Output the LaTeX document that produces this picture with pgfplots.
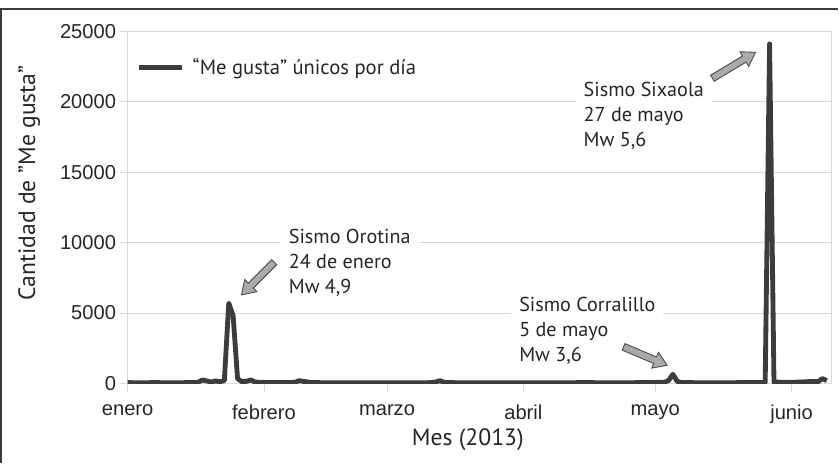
\documentclass[border=0pt]{standalone}
\usepackage{fontspec}
\setmainfont{PT Sans}
\newfontfamily\tickfont{Liberation Sans}
\usepackage{pgfplots}
\pgfplotsset{compat=1.18}
\definecolor{lineg}{RGB}{60,60,60}
\definecolor{gridg}{RGB}{217,217,217}
\definecolor{arrowfill}{RGB}{170,170,170}
\definecolor{framec}{RGB}{60,60,60}

\tikzset{sismo/.style={fill=white, align=left, anchor=north west, inner xsep=8pt, inner ysep=3pt,
    font=\fontsize{20}{25}\selectfont, text=black!85}}
% flecha de bloque: punta en #1, angulo #2, largo #3
\newcommand{\flecha}[3]{%
  \draw[shift={(#1)}, rotate=#2, draw=black!70, fill=arrowfill, line width=0.9pt, line join=miter]
    (-#3,-3.5pt) -- (-13pt,-3.5pt) -- (-13pt,-8.5pt) -- (0pt,0pt) -- (-13pt,8.5pt)
    -- (-13pt,3.5pt) -- (-#3,3.5pt) -- cycle;}

\begin{document}
\begin{tikzpicture}
\begin{axis}[
    at={(0,0)}, anchor=south west,
    scale only axis, width=699pt, height=350pt,
    xmin=0, xmax=160, ymin=0, ymax=25000,
    xtick={0,31,59,90,120,151},
    xticklabels={enero,febrero,marzo,abril,mayo,junio},
    ytick={0,5000,10000,15000,20000,25000},
    scaled y ticks=false,
    yticklabel style={/pgf/number format/.cd, fixed, set thousands separator={}, assume math mode=true},
    ticklabel style={font=\tickfont\fontsize{20}{24}\selectfont, text=black!85},
    xticklabel style={yshift=-10pt},
    ymajorgrids,
    grid style={gridg, line width=0.8pt},
    axis line style={gridg, line width=0.8pt},
    tick style={gridg, line width=0.8pt},
    tick align=outside, tick pos=left, major tick length=8pt,
    xlabel={Mes (2013)},
    ylabel={Cantidad de "Me gusta"},
    xlabel style={at={(axis description cs:0.4835,-0.16)}, anchor=center,
        font=\fontsize{23.5}{26}\selectfont, text=black!85},
    ylabel style={at={(axis description cs:-0.14,0.569)}, anchor=center,
        font=\fontsize{23.5}{26}\selectfont, text=black!85},
    legend style={at={(0.0129,0.897)}, anchor=west, draw=none, fill=none,
        inner sep=0pt, font=\fontsize{20.5}{24}\selectfont, text=black!85},
    legend image code/.code={\draw[lineg, line width=4.5pt] (0pt,0pt) -- (43pt,0pt);},
]

% "Me gusta" unicos por dia (dia 0 = 1 de enero)
\addplot[lineg, line width=4.8pt, line join=round] coordinates {
    (0,60) (3,50) (6,60) (10,50) (14,60) (16,80) (17,250) (18,180) (19,100)
    (20,180) (21,120) (22,200) (23,5700) (24,4800) (25,350) (26,120) (27,150)
    (28,250) (29,100) (32,60) (36,60) (38,80) (39,200) (40,150) (42,60)
    (48,50) (55,40) (60,50) (65,40) (69,60) (70,100) (71,200) (72,80) (75,50)
    (85,40) (95,50) (105,60) (112,40) (118,70) (122,80) (123,200) (124,650)
    (125,150) (126,60) (135,50) (140,60) (144,60) (145,80) (146,24100)
    (147,100) (150,80) (153,100) (156,150) (157,120) (158,350) (159,200)
};
\addlegendentry{\hspace{6pt}“Me gusta” únicos por día}

% anotaciones
\node[sismo] at (axis cs:34.8,11214) {Sismo Orotina\\24 de enero\\Mw 4,9};
\node[sismo] at (axis cs:87.2,6357) {Sismo Corralillo\\5 de mayo\\Mw 3,6};
\node[sismo] at (axis cs:101.85,21643) {Sismo Sixaola\\27 de mayo\\Mw 5,6};

\flecha{axis cs:25.9,6286}{225}{46pt}
\flecha{axis cs:122.7,1286}{-23}{47pt}
\flecha{axis cs:142.8,23500}{31}{50pt}
\end{axis}

\pgfresetboundingbox
\path (-126pt,-79pt) rectangle (706pt,381pt);
\draw[framec, line width=1.6pt] (-126pt,-79pt) -- (-126pt,372pt) -- (706pt,372pt);
\end{tikzpicture}
\end{document}
